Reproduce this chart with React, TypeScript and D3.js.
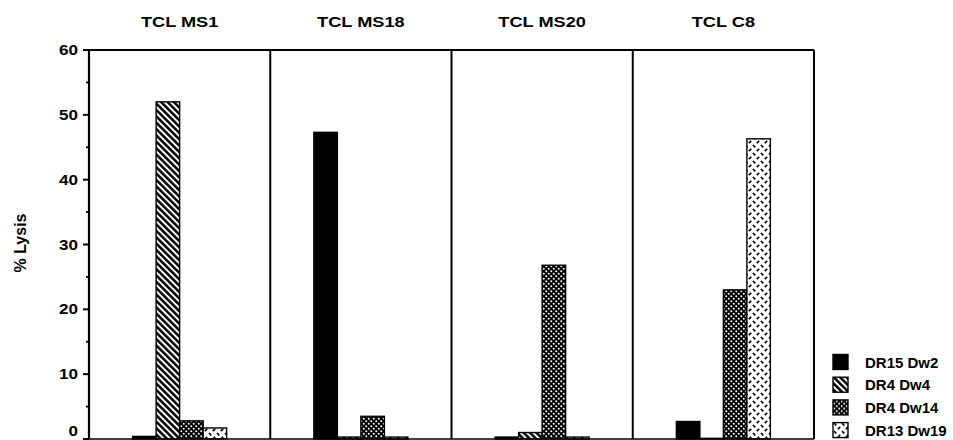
import React from 'react';
import * as d3 from 'd3';

const groups = ['TCL MS1', 'TCL MS18', 'TCL MS20', 'TCL C8'];
const seriesNames = ['DR15 Dw2', 'DR4 Dw4', 'DR4 Dw14', 'DR13 Dw19'];
const dr15Dw2 = [0.4, 47.3, 0.3, 2.7];
const dr4Dw4 = [52.0, 0.3, 1.0, 0.1];
const dr4Dw14 = [2.8, 3.5, 26.8, 23.0];
const dr13Dw19 = [1.7, 0.3, 0.3, 46.3];
const yTicks = [0, 10, 20, 30, 40, 50, 60];
const yMinorTicks = [5, 15, 25, 35, 45, 55];

const seriesValues = [dr15Dw2, dr4Dw4, dr4Dw14, dr13Dw19];
const fills = ['#000', 'url(#hatch)', 'url(#dots)', 'url(#dashes)'];

const W = 953;
const H = 440;
const m = { l: 89, r: 139, t: 50, b: 1 };
const FONT = '"Liberation Sans", Arial, Helvetica, sans-serif';

export default function App() {
  const x0 = d3.scaleBand().domain(groups).range([m.l, W - m.r]).padding(0);
  const groupW = 94;
  const x1 = d3.scaleBand().domain(seriesNames).range([0, groupW]).padding(0);
  const y = d3.scaleLinear().domain([0, 60]).range([H - m.b, m.t]);
  const baseY = y(0);

  return (
    <svg
      width={W}
      height={H}
      style={{ position: 'absolute', left: 0, top: 0, background: '#fff' }}
      fontFamily={FONT}
    >
      <defs>
        <pattern id="hatch" patternUnits="userSpaceOnUse" width={4.5} height={4.5} patternTransform="rotate(-45)">
          <rect width={4.5} height={4.5} fill="#fff" />
          <line x1={1.3} y1={0} x2={1.3} y2={4.5} stroke="#000" strokeWidth={2.5} />
        </pattern>
        <pattern id="dots" patternUnits="userSpaceOnUse" width={5} height={5}>
          <rect width={5} height={5} fill="#000" />
          <circle cx={1.25} cy={1.25} r={1} fill="#fff" />
          <circle cx={3.75} cy={3.75} r={1} fill="#fff" />
        </pattern>
        <pattern id="dashes" patternUnits="userSpaceOnUse" width={8} height={8}>
          <rect width={8} height={8} fill="#fff" />
          <line x1={1} y1={1} x2={3.3} y2={3.3} stroke="#000" strokeWidth={1.7} />
          <line x1={4.8} y1={7.2} x2={7.2} y2={4.8} stroke="#000" strokeWidth={1.7} />
        </pattern>
      </defs>

      {groups.map((g) => (
        <text
          key={g}
          transform={`translate(${(x0(g) ?? 0) + x0.bandwidth() / 2},${27}) scale(1.3,1)`}
          textAnchor="middle"
          fontSize={14}
          fontWeight="bold"
        >
          {g}
        </text>
      ))}

      {groups.map((g, gi) => {
        const gx = (x0(g) ?? 0) + (x0.bandwidth() - groupW) / 2;
        return seriesNames.map((s, si) => {
          const v = seriesValues[si][gi];
          return (
            <rect
              key={g + s}
              x={gx + (x1(s) ?? 0)}
              y={y(v)}
              width={x1.bandwidth()}
              height={Math.max(0.5, baseY - y(v))}
              fill={fills[si]}
              stroke="#000"
              strokeWidth={1.4}
            />
          );
        });
      })}

      {/* frame and panel dividers */}
      <line x1={m.l} x2={W - m.r} y1={m.t} y2={m.t} stroke="#000" strokeWidth={2} />
      <line x1={m.l} x2={W - m.r} y1={baseY} y2={baseY} stroke="#000" strokeWidth={1.5} />
      {groups.map((g) => (
        <line
          key={'d' + g}
          x1={(x0(g) ?? 0) + x0.bandwidth()}
          x2={(x0(g) ?? 0) + x0.bandwidth()}
          y1={m.t}
          y2={baseY}
          stroke="#000"
          strokeWidth={2}
        />
      ))}
      <line x1={m.l} x2={m.l} y1={m.t} y2={baseY} stroke="#000" strokeWidth={2.2} />

      {yTicks.map((t) => (
        <g key={t}>
          <line x1={m.l - 6} x2={m.l} y1={y(t)} y2={y(t)} stroke="#000" strokeWidth={2} />
          <text
            transform={`translate(${m.l - 11},${Math.min(y(t) + 5, H - 4)}) scale(1.22,1)`}
            textAnchor="end"
            fontSize={14}
            fontWeight="bold"
          >
            {t}
          </text>
        </g>
      ))}
      {yMinorTicks.map((t) => (
        <line key={'m' + t} x1={m.l - 3} x2={m.l} y1={y(t)} y2={y(t)} stroke="#000" strokeWidth={1.8} />
      ))}

      <text
        transform={`translate(26,243) rotate(-90)`}
        textAnchor="middle"
        fontSize={16}
        fontWeight="bold"
      >
        % Lysis
      </text>

      {seriesNames.map((s, i) => (
        <g key={'l' + s} transform={`translate(833,${362 + i * 22.7})`}>
          <rect x={0} y={-7.5} width={15} height={15} fill={fills[i]} stroke="#000" strokeWidth={1.4} />
          <text x={32} y={5.5} fontSize={15} fontWeight="bold">
            {s}
          </text>
        </g>
      ))}
    </svg>
  );
}
